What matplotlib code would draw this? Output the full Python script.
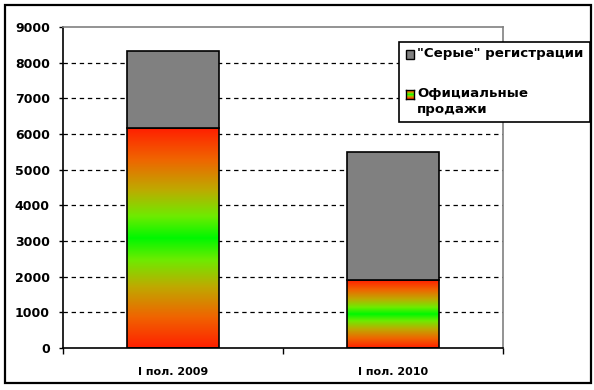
import numpy as np
import matplotlib
matplotlib.use("Agg")
import matplotlib.pyplot as plt
from matplotlib.colors import LinearSegmentedColormap
from matplotlib.patches import Rectangle

categories = ["I пол. 2009", "I пол. 2010"]
official = [6160, 1900]
grey = [2160, 3590]
series_names = ['"Серые" регистрации', "Официальные\nпродажи"]
yticks = list(range(0, 9001, 1000))

plt.rcParams["font.family"] = ["DejaVu Sans"]
plt.rcParams["font.weight"] = "bold"

W, H = 594, 390
fig = plt.figure(figsize=(W / 100, H / 100), dpi=100)
ax = fig.add_axes([63 / W, (H - 348) / H, (503 - 63) / W, (348 - 27) / H])

stops = [(0.00, (255, 32, 0)), (0.14, (240, 100, 0)), (0.28, (190, 170, 0)),
         (0.40, (110, 235, 0)), (0.50, (0, 248, 0)), (0.60, (110, 235, 0)),
         (0.72, (190, 170, 0)), (0.86, (240, 100, 0)), (1.00, (255, 32, 0))]
cmap = LinearSegmentedColormap.from_list(
    "rg", [(p, tuple(np.array(c) / 255)) for p, c in stops])
grad = np.linspace(0, 1, 256).reshape(-1, 1)

bw = 0.415
x = np.arange(len(categories))

for yv in yticks[1:-1]:
    ax.axhline(yv, color="black", lw=0.9, linestyle=(0, (3.5, 3)), zorder=1)

for i in x:
    ax.imshow(grad, cmap=cmap, aspect="auto", interpolation="bilinear",
              extent=(i - bw / 2, i + bw / 2, 0, official[i]), zorder=2)
    ax.add_patch(Rectangle((i - bw / 2, 0), bw, official[i], fill=False,
                           edgecolor="black", lw=1.2, zorder=3))
ax.bar(x, grey, bw, bottom=official, color="#808080", edgecolor="black",
       lw=1.2, zorder=3)
ax.set_xlim(-0.5, len(categories) - 0.5)
ax.set_ylim(0, 9000)

ax.set_yticks(yticks)
ax.set_yticklabels([str(v) for v in yticks], fontsize=9, fontweight="bold")
ax.tick_params(axis="y", length=3, pad=6.5, width=1)
ax.set_xticks(x)
ax.set_xticklabels(categories, fontsize=8, fontweight="bold")
ax.tick_params(axis="x", which="major", length=0, pad=14)
ax.set_xticks(np.arange(-0.5, len(categories), 1.0), minor=True)
ax.tick_params(axis="x", which="minor", length=4, width=1)

for s in ["left", "bottom"]:
    ax.spines[s].set_color("black")
    ax.spines[s].set_linewidth(1.2)
for s in ["top", "right"]:
    ax.spines[s].set_color("#808080")
    ax.spines[s].set_linewidth(1.2)

# outer chart frame
fig.patches.append(Rectangle((5 / W, (H - 383) / H), (591 - 5) / W, (383 - 5) / H,
                             transform=fig.transFigure, fill=False,
                             edgecolor="black", lw=1.6))

# legend (manual, Excel style)
fig.patches.append(Rectangle((399 / W, (H - 122) / H), (590 - 399) / W, (122 - 42) / H,
                             transform=fig.transFigure, facecolor="white",
                             edgecolor="black", lw=1.2, zorder=5))
fig.patches.append(Rectangle((406 / W, (H - 59) / H), 8 / W, 9 / H,
                             transform=fig.transFigure, facecolor="#808080",
                             edgecolor="black", lw=1, zorder=6))
lax = fig.add_axes([406 / W, (H - 99) / H, 8 / W, 9 / H], zorder=7)
lax.imshow(grad, cmap=cmap, aspect="auto", extent=(0, 1, 0, 1))
lax.set_xticks([]); lax.set_yticks([])
for s in lax.spines.values():
    s.set_linewidth(1)
fig.text(417 / W, (H - 53) / H, series_names[0], fontsize=9.6,
         fontweight="bold", va="center", ha="left", zorder=8)
fig.text(417 / W, (H - 101.5) / H, series_names[1], fontsize=9.6,
         fontweight="bold", va="center", ha="left", linespacing=1.3, zorder=8)

fig.savefig("out.png", dpi=100)
